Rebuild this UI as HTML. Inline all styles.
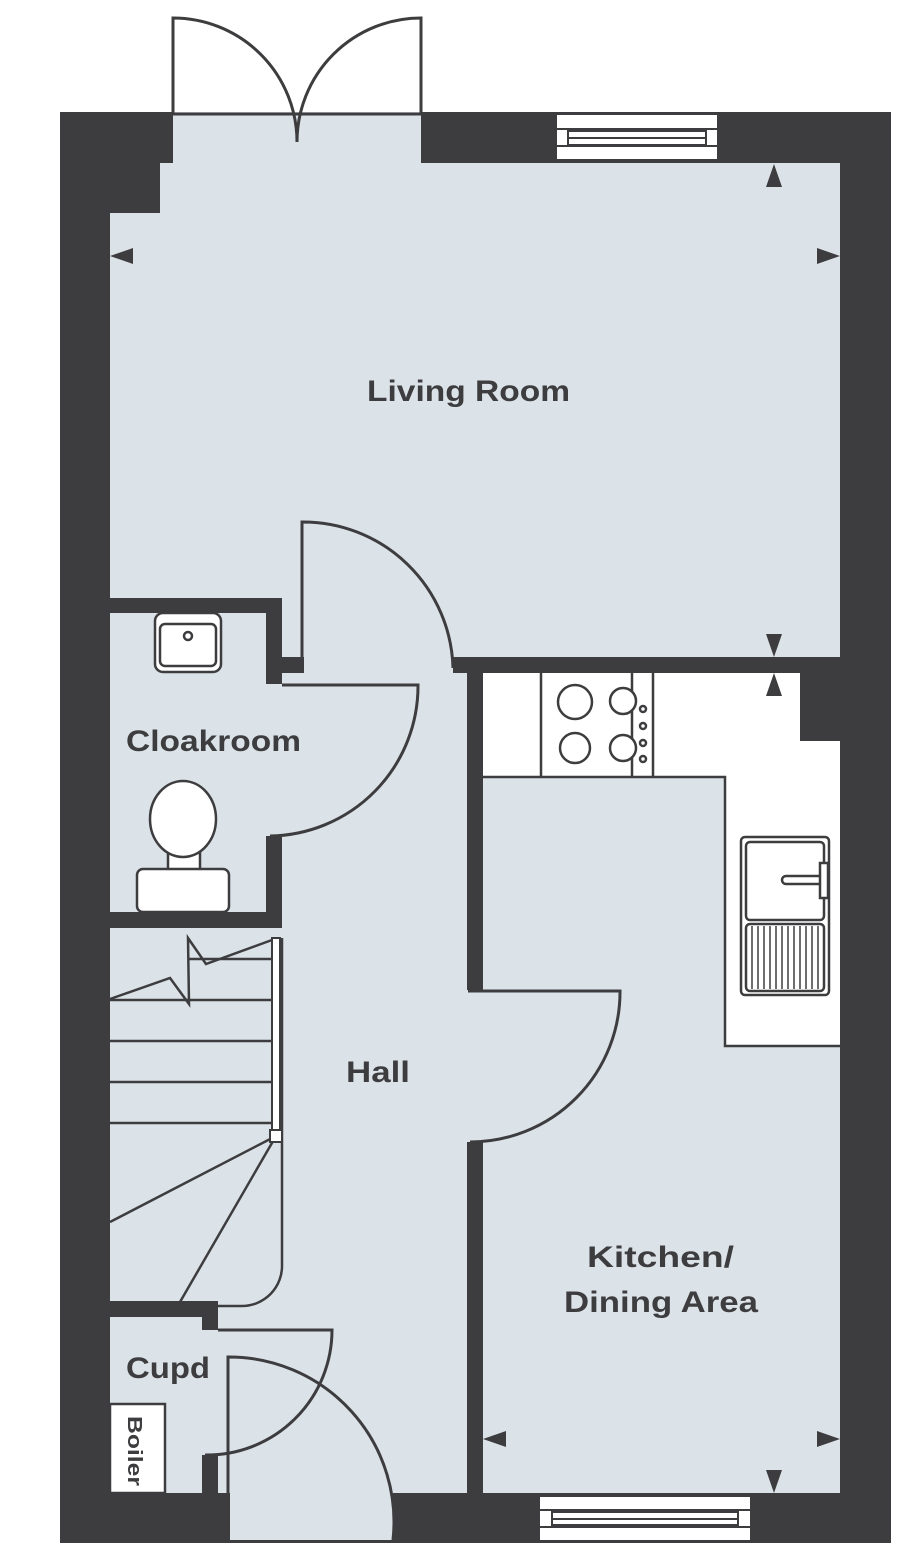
<!DOCTYPE html>
<html><head><meta charset="utf-8"><style>html,body{margin:0;padding:0;background:#fff}svg{display:block}</style></head>
<body>
<svg width="911" height="1560" viewBox="0 0 911 1560" xmlns="http://www.w3.org/2000/svg">
<g fill="#3d3d3f"><rect x="60" y="112" width="831" height="1431"/></g>
<g fill="#dce3e8">
<rect x="173" y="112" width="248" height="60"/>
<rect x="160" y="163" width="680" height="60"/>
<rect x="110" y="213" width="730" height="385"/>
<rect x="282" y="590" width="558" height="67"/>
<rect x="304" y="650" width="149" height="30"/>
<rect x="282" y="673" width="185" height="820"/>
<rect x="266" y="684" width="20" height="152"/>
<rect x="463" y="990" width="24" height="152"/>
<rect x="218" y="1301" width="100" height="192"/>
<rect x="230" y="1490" width="163" height="50"/>
<rect x="110" y="613" width="156" height="299"/>
<rect x="110" y="928" width="172" height="373"/>
<rect x="110" y="1317" width="92" height="176"/>
<rect x="200" y="1330" width="20" height="125"/>
<rect x="483" y="673" width="357" height="820"/>
</g>
<rect x="800" y="673" width="42" height="68" fill="#3d3d3f"/>
<g fill="#fff" stroke="#3d3d3f" stroke-width="2.5">
<path d="M483 673 H800 V741 H840 V1046 H725 V777 H483 Z" stroke="none"/>
<path d="M483 777 H725 V1046 H840" fill="none"/>
<line x1="541" y1="673" x2="541" y2="777"/><line x1="632" y1="673" x2="632" y2="777"/><line x1="653" y1="673" x2="653" y2="777"/>
<circle cx="575" cy="702" r="17"/><circle cx="623" cy="701" r="13"/><circle cx="575" cy="748" r="15"/><circle cx="623" cy="748" r="13"/>
<circle cx="643" cy="709" r="3"/><circle cx="643" cy="726" r="3"/><circle cx="643" cy="743" r="3"/><circle cx="643" cy="759" r="3"/>
<rect x="741" y="837" width="88" height="158" rx="4"/>
<rect x="746" y="842" width="78" height="78" rx="4"/>
<rect x="746" y="924" width="78" height="67" rx="4"/>
<rect x="782" y="876" width="46" height="8" rx="4"/>
<rect x="820" y="863" width="8" height="35"/>
</g>
<g stroke="#3d3d3f" stroke-width="1.5">
<line x1="752" y1="926" x2="752" y2="989"/><line x1="758" y1="926" x2="758" y2="989"/><line x1="764" y1="926" x2="764" y2="989"/><line x1="770" y1="926" x2="770" y2="989"/><line x1="776" y1="926" x2="776" y2="989"/><line x1="782" y1="926" x2="782" y2="989"/><line x1="788" y1="926" x2="788" y2="989"/><line x1="794" y1="926" x2="794" y2="989"/><line x1="800" y1="926" x2="800" y2="989"/><line x1="806" y1="926" x2="806" y2="989"/><line x1="812" y1="926" x2="812" y2="989"/><line x1="818" y1="926" x2="818" y2="989"/>
</g>
<g fill="#fff" stroke="#3d3d3f" stroke-width="2">
<rect x="556" y="114" width="162" height="46"/>
<line x1="556" y1="129" x2="718" y2="129"/><line x1="556" y1="146" x2="718" y2="146"/>
<rect x="568" y="131" width="138" height="14"/><line x1="568" y1="138" x2="706" y2="138"/>
<rect x="539" y="1496" width="212" height="45"/>
<line x1="539" y1="1510" x2="751" y2="1510"/><line x1="539" y1="1527" x2="751" y2="1527"/>
<rect x="552" y="1512" width="186" height="13"/><line x1="552" y1="1519" x2="738" y2="1519"/>
</g>
<g fill="none" stroke="#3d3d3f" stroke-width="3">
<path d="M173 114 V18 A124 124 0 0 1 297 142"/>
<path d="M421 114 V18 A124 124 0 0 0 297 142"/>
<line x1="173" y1="114" x2="421" y2="114"/>
<path d="M302 672 V522 A150 150 0 0 1 453 668"/>
<path d="M282 685 H418 A150 150 0 0 1 270 836"/>
<path d="M468 991 H620 A150 150 0 0 1 470 1142"/>
<path d="M218 1330 H332 A125 125 0 0 1 205 1455"/>
<path d="M228 1493 V1357 A165 165 0 0 1 393 1540"/>
</g>
<rect x="202" y="1455" width="16" height="38" fill="#3d3d3f"/>
<g fill="none" stroke="#3d3d3f" stroke-width="2.5">
<line x1="110" y1="1000" x2="272" y2="1000"/>
<line x1="110" y1="1041" x2="272" y2="1041"/>
<line x1="110" y1="1082" x2="272" y2="1082"/>
<line x1="110" y1="1123" x2="272" y2="1123"/>
<line x1="188" y1="959" x2="272" y2="959"/>
<polyline points="110,999 170,978 189,1004 188,938 206,964 272,940"/>
<line x1="276" y1="1136" x2="110" y2="1222"/>
<line x1="276" y1="1136" x2="180" y2="1302"/>
<path d="M282 938 V1265 A40 40 0 0 1 242 1306 H218"/>
</g>
<rect x="272" y="938" width="8" height="194" fill="#fff" stroke="#3d3d3f" stroke-width="2"/>
<rect x="270" y="1130" width="12" height="12" fill="#fff" stroke="#3d3d3f" stroke-width="2"/>
<rect x="110" y="1301" width="108" height="16" fill="#3d3d3f"/>
<rect x="202" y="1301" width="16" height="29" fill="#3d3d3f"/>
<g fill="#fff" stroke="#3d3d3f" stroke-width="2.5">
<rect x="155" y="613" width="66" height="59" rx="8"/>
<rect x="160" y="624" width="56" height="42" rx="5"/>
<circle cx="188" cy="636" r="4"/>
<rect x="168" y="850" width="32" height="22"/>
<ellipse cx="183" cy="819" rx="33" ry="38"/>
<rect x="137" y="869" width="92" height="43" rx="6"/>
<rect x="110" y="1404" width="55" height="89"/>
</g>
<g fill="#3d3d3f">
<polygon points="110,256 133,248 133,264"/>
<polygon points="840,256 817,248 817,264"/>
<polygon points="774,164 766,187 782,187"/>
<polygon points="774,657 766,634 782,634"/>
<polygon points="774,673 766,696 782,696"/>
<polygon points="483,1439 506,1431 506,1447"/>
<polygon points="840,1439 817,1431 817,1447"/>
<polygon points="774,1493 766,1470 782,1470"/>
</g>
<g font-family="Liberation Sans, sans-serif" font-weight="bold" fill="#3d3d3f" font-size="30">
<text x="367" y="401" textLength="203" lengthAdjust="spacingAndGlyphs">Living Room</text>
<text x="126" y="751" textLength="175" lengthAdjust="spacingAndGlyphs">Cloakroom</text>
<text x="346" y="1082" textLength="64" lengthAdjust="spacingAndGlyphs">Hall</text>
<text x="587" y="1267" textLength="147" lengthAdjust="spacingAndGlyphs">Kitchen/</text>
<text x="564" y="1312" textLength="194" lengthAdjust="spacingAndGlyphs">Dining Area</text>
<text x="126" y="1378" textLength="84" lengthAdjust="spacingAndGlyphs">Cupd</text>
<text transform="translate(128,1416) rotate(90)" font-size="20" textLength="70" lengthAdjust="spacingAndGlyphs">Boiler</text>
</g>
</svg>
</body></html>
